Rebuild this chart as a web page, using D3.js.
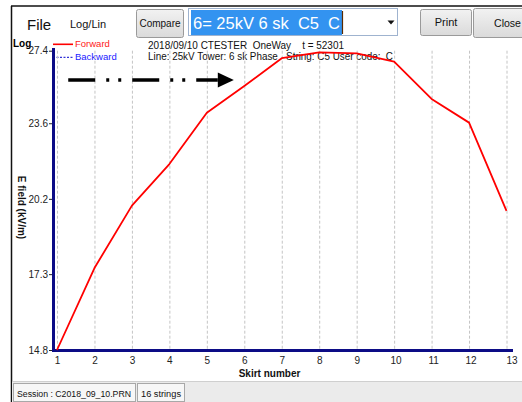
<!DOCTYPE html>
<html>
<head>
<meta charset="utf-8">
<script src="https://cdn.jsdelivr.net/npm/d3@7/dist/d3.min.js"></script>
<style>
  html, body { margin: 0; padding: 0; background: #fff; }
  svg { display: block; font-family: "Liberation Sans", Arial, sans-serif; }
</style>
</head>
<body>
<svg id="chart" width="522" height="402"></svg>
<script>
// Skirt-by-skirt E field readings along one insulator string
const skirts = [1, 2, 3, 4, 5, 6, 7, 8, 9, 10, 11, 12, 13];
const forward = [14.8, 17.52, 19.92, 21.70, 24.12, 25.48, 26.98, 27.31, 27.25, 26.79, 24.81, 23.63, 19.71];
const yTicks = [14.8, 17.3, 20.2, 23.6, 27.4];
const legendItems = ["Forward", "Backward"];
const infoLines = [
  "2018/09/10 CTESTER  OneWay    t = 52301",
  "Line: 25kV Tower: 6 sk Phase   String: C5 User code:  C"
];
const selection = "6= 25kV 6 sk  C5  C";
const statusItems = ["Session : C2018_09_10.PRN", "16 strings"];
// direction-of-travel arrow, in skirt / kV/m units
const arrowFrom = [1.3, 25.8];
const arrowTo = [5.72, 25.8];

const svg = d3.select("#chart");
const navy = "#0c0c86";

const x = d3.scaleLinear().domain([1, 13]).range([57, 506.5]);
const y = d3.scaleLog().domain([14.8, 27.4]).range([350, 50.7]);

// ---------- window frame ----------
svg.append("line").attr("x1", 11).attr("x2", 522).attr("y1", 6).attr("y2", 6)
  .attr("stroke", "#111").attr("stroke-width", 1.5);
svg.append("line").attr("x1", 11.5).attr("x2", 11.5).attr("y1", 6).attr("y2", 402)
  .attr("stroke", "#111").attr("stroke-width", 1.5);

// ---------- toolbar ----------
const defs = svg.append("defs");
const grad = defs.append("linearGradient").attr("id", "btn").attr("x1", 0).attr("x2", 0).attr("y1", 0).attr("y2", 1);
grad.append("stop").attr("offset", "0%").attr("stop-color", "#f2f2f2");
grad.append("stop").attr("offset", "100%").attr("stop-color", "#dadada");

svg.append("text").attr("x", 27).attr("y", 30).attr("font-size", 15).attr("fill", "#111").text("File");
svg.append("text").attr("x", 70).attr("y", 28).attr("font-size", 11).attr("fill", "#111").text("Log/Lin");

function button(x0, y0, w, h, label, size, tx, anchor, len) {
  svg.append("rect").attr("x", x0 + 0.5).attr("y", y0 + 0.5).attr("width", w).attr("height", h)
    .attr("rx", 2).attr("fill", "url(#btn)").attr("stroke", "#9a9a9a");
  const t = svg.append("text").attr("x", tx).attr("y", y0 + h / 2 + size * 0.36).attr("font-size", size)
    .attr("text-anchor", anchor).attr("fill", "#111").text(label);
  if (len) t.attr("textLength", len).attr("lengthAdjust", "spacingAndGlyphs");
}
button(136, 9, 47, 28, "Compare", 10, 160, "middle");
button(420, 9, 51, 26, "Print", 11, 446, "middle");
button(473, 8, 60, 29, "Close", 11.5, 494, "start", 27);

// combo box with selected text
svg.append("rect").attr("x", 188.5).attr("y", 8.5).attr("width", 209).attr("height", 27)
  .attr("fill", "#fff").attr("stroke", "#9fb3cf");
svg.append("rect").attr("x", 191).attr("y", 10).attr("width", 151).attr("height", 25).attr("fill", "#3393f0");
svg.append("text").attr("x", 193).attr("y", 29).attr("font-size", 17).attr("fill", "#fff")
  .attr("xml:space", "preserve").attr("textLength", 147).attr("lengthAdjust", "spacingAndGlyphs")
  .text(selection);
svg.append("line").attr("x1", 342.5).attr("x2", 342.5).attr("y1", 11).attr("y2", 34)
  .attr("stroke", "#5a2a00").attr("stroke-width", 1.2);
svg.append("path").attr("d", "M387.5,20.5 L394.5,20.5 L391,24.5 Z").attr("fill", "#111");

// ---------- header texts ----------
svg.append("text").attr("x", 13).attr("y", 46.5).attr("font-size", 10).attr("font-weight", "bold").text("Log");
infoLines.forEach((t, i) => {
  svg.append("text").attr("x", 148).attr("y", 48.5 + i * 11).attr("font-size", 11).attr("fill", "#111")
    .attr("xml:space", "preserve").attr("textLength", i === 0 ? 196 : 245)
    .attr("lengthAdjust", "spacingAndGlyphs").text(t);
});

// legend
const legendColor = ["#ff1a1a", "#1a1aff"];
legendItems.forEach((name, i) => {
  const ly = 44.3 + i * 13;
  svg.append("line").attr("x1", 53).attr("x2", 73).attr("y1", ly).attr("y2", ly)
    .attr("stroke", i === 0 ? "#ff0000" : "#0000cc").attr("stroke-width", i === 0 ? 1.6 : 1)
    .attr("stroke-dasharray", i === 0 ? null : "2,1.5");
  svg.append("text").attr("x", 75).attr("y", ly + 3).attr("font-size", 9.5)
    .attr("fill", legendColor[i]).text(name);
});

// ---------- grid ----------
svg.append("g").selectAll("line").data(skirts).join("line")
  .attr("x1", d => x(d) + 0.5).attr("x2", d => x(d) + 0.5)
  .attr("y1", y(27.4)).attr("y2", 349)
  .attr("stroke", "#c4c4c4").attr("stroke-width", 1).attr("stroke-dasharray", "3,2");

// ---------- axes ----------
const yAxis = d3.axisLeft(y).tickValues(yTicks).tickFormat(d3.format(".1f")).tickSize(4).tickPadding(1);
const gy = svg.append("g").attr("transform", "translate(53,0)").call(yAxis);
gy.select(".domain").remove();
gy.selectAll("text").attr("font-size", 10).attr("fill", "#222").attr("font-family", "Liberation Sans, Arial, sans-serif");
gy.selectAll("line").attr("stroke", "#222");

const xAxis = d3.axisBottom(x).tickValues(skirts).tickFormat(d3.format("d")).tickSize(0).tickPadding(6);
const gx = svg.append("g").attr("transform", "translate(0,351)").call(xAxis);
gx.select(".domain").remove();
gx.selectAll("text").attr("font-size", 10).attr("fill", "#222").attr("font-family", "Liberation Sans, Arial, sans-serif")
  .attr("dx", d => d >= 10 ? (d === 13 ? 5 : 1.5) : 0);

// thick plot frame lines
svg.append("line").attr("x1", 53.5).attr("x2", 53.5).attr("y1", 48).attr("y2", 351.5)
  .attr("stroke", navy).attr("stroke-width", 3);
svg.append("line").attr("x1", 52).attr("x2", 513).attr("y1", 350.5).attr("y2", 350.5)
  .attr("stroke", navy).attr("stroke-width", 3);

// axis titles
svg.append("text").attr("transform", "translate(18,207.5) rotate(90)").attr("text-anchor", "middle")
  .attr("font-size", 10).attr("font-weight", "bold").attr("fill", "#111").text("E field (kV/m)");
svg.append("text").attr("x", 269.5).attr("y", 377).attr("text-anchor", "middle")
  .attr("font-size", 10).attr("font-weight", "bold").attr("fill", "#111").text("Skirt number");

// ---------- forward series ----------
const line = d3.line().x((d, i) => x(skirts[i])).y(d => y(d));
svg.append("path").datum(forward).attr("d", line).attr("fill", "none")
  .attr("stroke", "#ff0000").attr("stroke-width", 1.8).attr("stroke-linejoin", "round");

// ---------- direction arrow ----------
const ax0 = x(arrowFrom[0]), ax1 = x(arrowTo[0]), ay = y(arrowFrom[1]);
const head = 16;
svg.append("line").attr("x1", ax0).attr("x2", ax1 - head).attr("y1", ay).attr("y2", ay)
  .attr("stroke", "#000").attr("stroke-width", 3.5).attr("stroke-dasharray", "27,11,3,9,3,11");
svg.append("path")
  .attr("d", `M${ax1 - head},${ay - 7.5} L${ax1},${ay} L${ax1 - head},${ay + 7.5} Z`)
  .attr("fill", "#000");

// ---------- status bar ----------
svg.append("rect").attr("x", 12).attr("y", 381).attr("width", 510).attr("height", 21).attr("fill", "#ebebeb");
svg.append("line").attr("x1", 12).attr("x2", 522).attr("y1", 381.5).attr("y2", 381.5).attr("stroke", "#cfcfcf");
const boxes = [[13, 122], [137, 47]];
statusItems.forEach((t, i) => {
  const [bx, bw] = boxes[i];
  svg.append("rect").attr("x", bx + 0.5).attr("y", 383.5).attr("width", bw).attr("height", 18)
    .attr("fill", "#f7f7f7").attr("stroke", "#a8a8a8");
  svg.append("text").attr("x", bx + 4).attr("y", 397).attr("font-size", 9.2).attr("fill", "#111")
    .attr("textLength", i === 0 ? 114 : 40).attr("lengthAdjust", "spacingAndGlyphs").text(t);
});
</script>
</body>
</html>
